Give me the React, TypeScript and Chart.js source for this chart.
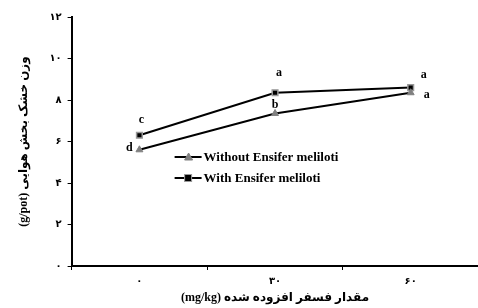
import React, { useEffect, useRef } from "react";
import { Chart, registerables } from "chart.js";

Chart.register(...registerables);

const categories = ["۰", "۳۰", "۶۰"];
const withoutValues = [5.6, 7.35, 8.35];
const withValues = [6.3, 8.35, 8.6];
const withoutLetters = ["d", "b", "a"];
const withLetters = ["c", "a", "a"];
const yTickLabels: Record<number, string> = { 0: "۰", 2: "۲", 4: "۴", 6: "۶", 8: "۸", 10: "۱۰", 12: "۱۲" };
const seriesNames = ["Without Ensifer meliloti", "With Ensifer meliloti"];
const xTitle = "(mg/kg) مقدار فسفر افزوده شده";
const yTitle = "(g/pot) وزن خشک بخش هوایی";

const letterOffsets = [
  [[-10, -2], [0, -9], [16, 2]],
  [[2, -15], [4, -20], [13, -13]],
];

const lettersPlugin = {
  id: "letters",
  afterDatasetsDraw(chart: any) {
    const ctx = chart.ctx;
    ctx.save();
    ctx.font = "bold 12px 'Liberation Serif'";
    ctx.fillStyle = "#000";
    ctx.textAlign = "center";
    ctx.textBaseline = "middle";
    const sets = [withoutLetters, withLetters];
    sets.forEach((letters, di) => {
      const meta = chart.getDatasetMeta(di);
      meta.data.forEach((pt: any, i: number) => {
        const [dx, dy] = letterOffsets[di][i];
        ctx.fillText(letters[i], pt.x + dx, pt.y + dy);
      });
    });
    ctx.restore();
  },
};

const legendPlugin = {
  id: "insideLegend",
  afterDraw(chart: any) {
    const ctx = chart.ctx;
    const x0 = chart.chartArea.left + 103;
    const y0 = chart.chartArea.top + 140;
    ctx.save();
    chart.data.datasets.forEach((ds: any, i: number) => {
      const y = y0 + i * 21;
      ctx.strokeStyle = "#000";
      ctx.lineWidth = 2;
      ctx.beginPath();
      ctx.moveTo(x0, y);
      ctx.lineTo(x0 + 27, y);
      ctx.stroke();
      ctx.fillStyle = ds.pointBackgroundColor;
      ctx.strokeStyle = ds.pointBorderColor;
      ctx.lineWidth = 1;
      if (ds.pointStyle === "triangle") {
        ctx.beginPath();
        ctx.moveTo(x0 + 14, y - 4);
        ctx.lineTo(x0 + 18, y + 3);
        ctx.lineTo(x0 + 10, y + 3);
        ctx.closePath();
        ctx.fill();
        ctx.stroke();
      } else {
        ctx.fillRect(x0 + 10, y - 3.5, 7, 7);
        ctx.strokeRect(x0 + 10, y - 3.5, 7, 7);
      }
      ctx.fillStyle = "#000";
      ctx.font = "bold 13px 'Liberation Serif'";
      ctx.textAlign = "left";
      ctx.textBaseline = "middle";
      ctx.fillText(ds.label, x0 + 29, y + 1);
    });
    ctx.restore();
  },
};

export default function App() {
  const ref = useRef<HTMLCanvasElement>(null);
  useEffect(() => {
    if (!ref.current) return;
    const chart = new Chart(ref.current, {
      type: "line",
      data: {
        labels: categories,
        datasets: [
          {
            label: seriesNames[0],
            data: withoutValues,
            borderColor: "#000",
            borderWidth: 2,
            pointStyle: "triangle",
            pointRadius: 4,
            pointBackgroundColor: "#808080",
            pointBorderColor: "#808080",
            pointBorderWidth: 1,
          },
          {
            label: seriesNames[1],
            data: withValues,
            borderColor: "#000",
            borderWidth: 2,
            pointStyle: "rect",
            pointRadius: 4,
            pointBackgroundColor: "#000",
            pointBorderColor: "#999",
            pointBorderWidth: 1.5,
          },
        ],
      },
      options: {
        animation: false,
        responsive: false,
        layout: { padding: { top: 17, right: 0, left: 17, bottom: 4 } },
        plugins: { legend: { display: false }, tooltip: { enabled: false } },
        scales: {
          x: {
            offset: true,
            grid: { display: true, drawOnChartArea: false, offset: true, color: "#000", tickLength: 4, tickColor: "#000", lineWidth: 1 },
            border: { display: true, color: "#000", width: 2 },
            ticks: { color: "#000", font: { family: "'DejaVu Sans'", size: 10, weight: "bold" }, padding: 5 },
            title: { display: true, text: xTitle, color: "#000", font: { family: "'Liberation Serif', 'DejaVu Sans'", size: 12, weight: "bold", lineHeight: 1 }, padding: { top: 0, bottom: 0 } },
          },
          y: {
            min: 0,
            max: 12,
            ticks: {
              stepSize: 2,
              color: "#000",
              font: { family: "'DejaVu Sans'", size: 10, weight: "bold" },
              padding: 6,
              callback: (v: any) => yTickLabels[v as number] ?? "",
            },
            grid: { display: true, drawOnChartArea: false, color: "#000", tickLength: 4, tickColor: "#000" },
            border: { display: true, color: "#000", width: 2 },
            title: { display: true, text: yTitle, color: "#000", font: { family: "'Liberation Serif', 'DejaVu Sans'", size: 12, weight: "bold" }, padding: { top: 0, bottom: 12 } },
          },
        },
      },
      plugins: [lettersPlugin, legendPlugin],
    });
    return () => chart.destroy();
  }, []);
  return (
    <div style={{ position: "fixed", left: 0, top: 0, width: 478, height: 308, overflow: "hidden", background: "#fff" }}>
      <canvas ref={ref} width={484} height={308} />
    </div>
  );
}
